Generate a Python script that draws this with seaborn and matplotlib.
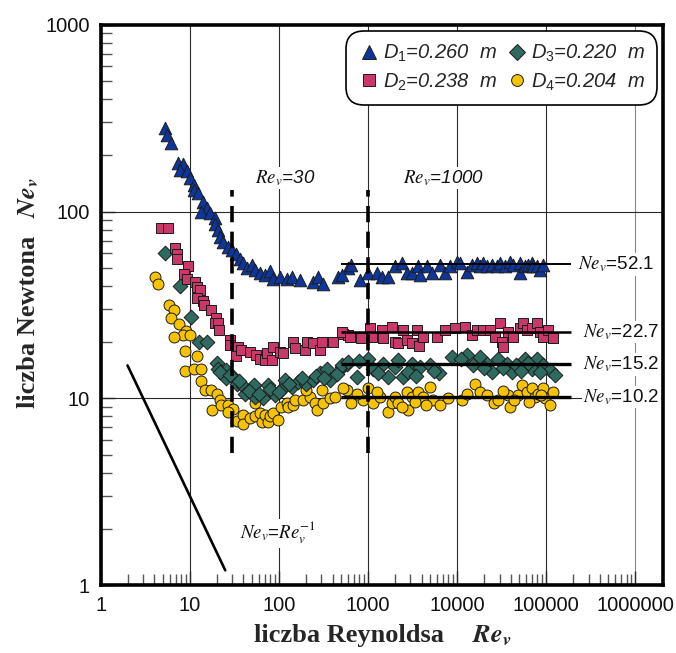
import pandas as pd
import matplotlib
matplotlib.use("Agg")
import matplotlib.pyplot as plt
import seaborn as sns
from matplotlib.lines import Line2D
from matplotlib.ticker import FixedLocator, FixedFormatter, NullFormatter

# ---------------------------------------------------------------- data
# Newton number vs Reynolds number for four impeller diameters
re_d1 = [5.3, 5.5, 6.2, 7.3, 8.4, 7.7, 9.3, 10, 11.2, 11.1,
         12.4, 14.1, 15.4, 13.5, 16.8, 19.1, 19.1, 20.8, 21.7, 23.6,
         27, 29.4, 33.4, 36.5, 39.6, 43.3, 49.3, 53.7, 61, 69.6,
         79, 86, 103, 122, 140, 172, 241, 275, 313, 465, 600,
         515, 650, 813, 1010, 1250, 1430, 1680, 2000, 2400, 2750,
         3100, 3650, 3840, 4550, 5200, 6440, 7300, 8340, 9900, 10800,
         12800, 14600, 16600, 18100, 19800, 21600, 24700, 28000, 30400, 34600,
         39400, 43000, 51000, 51000, 58000, 63000, 69000, 72000, 78000, 85600, 93000]
ne_d1 = [279, 257, 233, 182, 180, 166, 164, 151, 139, 131,
         126, 113, 104, 100, 98, 92, 86, 80, 73.5, 69,
         65, 62, 59.5, 55.5, 52.8, 49.7, 51.8, 48.7, 46.7, 45.8,
         48.3, 43.8, 44.8, 43.8, 44.8, 43, 42, 44.8, 41, 44.8, 49.8,
         45.8, 51.8, 43, 46.7, 46.7, 44.8, 44.8, 50.9, 52.8, 46.7,
         46.7, 50.9, 45.8, 50.9, 46.7, 51.8, 46.7, 50.9, 54, 52.8,
         47.6, 51.8, 52.8, 50.9, 52.8, 50.9, 51.8, 50.9, 52.8, 50.9,
         54, 51.8, 52.8, 46.7, 50.9, 51.8, 52.8, 50.9, 50.9, 48.7, 51.8]

re_d2 = [4.7, 5.7, 6.8, 7.2, 7.2, 9.6, 8.6, 9.3, 11.4, 11.9,
         12.9, 11.9, 14.1, 14.5, 17.5, 19.6, 19.1, 20.8, 21.2, 28.1,
         28.1, 35, 33.4, 38, 47, 56, 61, 69.6, 74, 83,
         86.5, 103, 112, 144, 151, 196, 207, 242, 289, 302,
         407, 525, 600,
         515, 628, 840, 1050, 1100, 1430, 1490, 1840, 2000, 2170,
         2500, 2750, 3100, 3530, 3770, 4200, 5900, 7300, 9400, 12200,
         14600, 16600, 19800, 23500, 27000, 30400, 31800, 33000, 37500, 43000,
         51000, 55500, 60500, 69000, 78000, 85600, 93000, 105000, 120000]
ne_d2 = [81.5, 81.5, 63.5, 59.5, 56, 51.3, 46.3, 43.5, 42, 39.6,
         38.2, 34.3, 33, 31.6, 29.7, 27, 25.2, 25.2, 23.2, 20.5,
         19.3, 18.9, 16.8, 18.1, 17.8, 17.1, 16.3, 16.1, 17.4, 16,
         18.9, 17.8, 17.5, 20.1, 18.5, 18.1, 20.1, 19.7, 18.1, 20.1,
         20.1, 22.2, 21.8,
         22.7, 21.4, 21, 23.7, 21.4, 23.2, 21, 24.2, 20.1, 19.7,
         23.2, 20.5, 19.7, 23.2, 19, 21.4, 21.4, 23.2, 23.7, 24.2,
         21.8, 23.2, 23.2, 23.2, 21.4, 25.2, 20.1, 18.9, 22.7, 21.4,
         23.7, 25.2, 23.2, 23.7, 25.2, 22.7, 21.4, 23.2, 21]

re_d3 = [5.2, 7.7, 10.4, 12.7, 15.6, 20.2, 20.9, 25.3, 25.8, 30.7,
         33.5, 40, 41.5, 52.5, 53.7, 66.5, 75.6, 90, 107, 117,
         139, 164, 204, 243, 289, 343, 374, 510, 580,
         22, 28, 36, 46, 60, 80, 100, 130, 180, 260, 320, 450,
         515, 600, 745, 1010, 1150, 1490, 1680, 2000, 2500, 3100,
         3840, 4970, 6200, 8800, 12800, 15200, 18100, 21600, 24700, 29000,
         36000, 41000, 46000, 58000, 69000, 78000, 93000, 110000, 125000,
         800, 1300, 2200, 2800, 3500, 5500, 11000, 20000, 33000, 52000, 62000, 85000]
ne_d3 = [60, 40, 27.4, 20.1, 20.1, 15.5, 14.4, 14.2, 12.9, 13,
         12, 11.6, 10.6, 11.8, 10.2, 10, 11.8, 10.4, 11.1, 12.5,
         11.5, 12.3, 12, 12.5, 13.6, 14.4, 12.5, 14.7, 15.3,
         13.8, 13.4, 12.4, 11, 10.6, 11.2, 10.8, 12, 12.8, 13.2, 12.8, 13.5,
         15.1, 15.6, 13, 16.3, 14.4, 15.3, 13, 14.7, 13, 15.3,
         14.7, 15.1, 13.6, 16.7, 17.1, 15.1, 16.7, 15.3, 13.9, 16.3,
         15.3, 13.9, 15.1, 16.3, 14.4, 16.3, 15.1, 14.2, 13.3,
         15.8, 13.6, 16, 13.8, 13.2, 14, 16.2, 14.6, 14.5, 14, 15.4, 13.8]

re_d4 = [4.05, 4.4, 5.8, 6.6, 6.1, 7.5, 9, 8.3, 6.6, 10,
         8.9, 12.2, 8.9, 11.2, 13.3, 13.3, 14.7, 17.5, 20, 21.7,
         17.9, 22.6, 27, 30.7, 27, 33.5, 40, 40, 47, 53.7,
         53.7, 61, 64, 69.6, 75.6, 79, 86, 98, 107, 122,
         127, 144, 151, 186, 223, 204, 254, 265, 302, 313,
         374, 424, 575,
         525, 650, 880, 1010, 1150, 1365, 1680, 1840, 2000, 2170,
         2750, 2850, 3100, 3650, 4200, 4970, 5400, 6440, 11500, 15800,
         18100, 21600, 25700, 29000, 37500, 39400, 48500, 53000, 60500, 69000,
         75000, 81000, 93000, 97500, 110000, 120000,
         750, 1250, 2400, 3400, 4500, 8000, 13000, 33000, 44000, 65000, 88000]
ne_d4 = [44.8, 41, 31.6, 29.7, 27, 24.9, 23, 21.8, 21.2, 21.8,
         18, 16.8, 14, 14.4, 14.4, 12.4, 11.1, 11.1, 10.6, 9.8,
         8.7, 9.2, 9.2, 8.8, 8.5, 7.6, 8.1, 7.3, 7.8, 8,
         9.4, 8.3, 7.5, 8.1, 7.5, 8, 8.3, 7.7, 9, 9.4,
         9, 9.2, 9.8, 9.8, 10.2, 11.1, 9.4, 8.7, 11.1, 9.4,
         10, 10.2, 11.1,
         11.3, 9.4, 9.8, 11.3, 9.4, 10.2, 8.5, 9.4, 10.2, 9.4,
         10.8, 8.7, 10.2, 10.8, 10.2, 11.5, 9.8, 9.2, 9.8, 12,
         10.8, 10.4, 9.4, 9.8, 10.4, 9, 10.4, 11.8, 10.8, 11.3,
         10.2, 10.6, 11.3, 10, 9.2, 10.8,
         10.6, 10.8, 9, 9.6, 9.2, 10, 10.6, 11, 9.8, 9.6, 10.4]

series_names = [r"$\mathit{D}_{\mathit{1}}$=0.260  m",
                r"$\mathit{D}_{\mathit{2}}$=0.238  m",
                r"$\mathit{D}_{\mathit{3}}$=0.220  m",
                r"$\mathit{D}_{\mathit{4}}$=0.204  m"]
series_colors = ["#0E3599", "#C93868", "#2F6A61", "#F7C300"]
series_markers = ["^", "s", "D", "o"]

# plateau values of Ne_v in the turbulent range
ne_levels = [52.1, 22.7, 15.2, 10.2]
level_re_range = [500, 190000]

# characteristic Reynolds numbers
re_marks = [30, 1000]
re_mark_ne_range = [5.1, 130]

# laminar slope Ne_v = C * Re_v^-1
slope_re = [2, 25]
slope_ne = [15, 1.2]

x_ticks = [1, 10, 100, 1000, 10000, 100000, 1000000]
x_tick_labels = ["1", "10", "100", "1000", "10000", "100000", "1000000"]
y_ticks = [1, 10, 100, 1000]
y_tick_labels = ["1", "10", "100", "1000"]

# ---------------------------------------------------------------- style
sns.set_style("ticks")
plt.rcParams["font.family"] = ["Liberation Sans", "DejaVu Sans"]
plt.rcParams["mathtext.fontset"] = "custom"
plt.rcParams["mathtext.it"] = "Liberation Sans:italic"
plt.rcParams["mathtext.rm"] = "Liberation Sans"
plt.rcParams["mathtext.bf"] = "Liberation Sans:bold"

fig = plt.figure(figsize=(6.76, 6.53), dpi=100)
ax = fig.add_axes([0.149, 0.104, 0.832, 0.858])

frames = []
for name, re, ne in zip(series_names, [re_d1, re_d2, re_d3, re_d4],
                        [ne_d1, ne_d2, ne_d3, ne_d4]):
    frames.append(pd.DataFrame({"Re": re, "Ne": ne, "series": name}))
df = pd.concat(frames, ignore_index=True)

palette = dict(zip(series_names, series_colors))
markers = dict(zip(series_names, series_markers))
sizes = {series_names[0]: 82, series_names[1]: 62,
         series_names[2]: 56, series_names[3]: 62}

# smallest impeller first so the larger ones are drawn on top
for name in series_names[::-1]:
    sub = df[df["series"] == name]
    sns.scatterplot(data=sub, x="Re", y="Ne", color=palette[name],
                    marker=markers[name], s=sizes[name], edgecolor="#1c1c1c",
                    linewidth=0.7, legend=False, ax=ax, zorder=3)

ax.set_xscale("log")
ax.set_yscale("log")
ax.set_xlim(1, 2.06e6)
ax.set_ylim(1, 1000)

# grid at every decade
for v in x_ticks[1:]:
    ax.axvline(v, color="#888888" if v == x_ticks[-1] else "#2a2a2a",
               lw=0.8, zorder=0.5)
for v in y_ticks[1:-1]:
    ax.axhline(v, color="#2a2a2a", lw=0.8, zorder=0.5)

# plateau lines and their labels
level_widths = [1.4, 1.8, 2.4, 2.4]
level_label_x = [2.3e5, 2.6e5, 2.6e5, 2.6e5]
for ne, lw, lx in zip(ne_levels, level_widths, level_label_x):
    ax.hlines(ne, level_re_range[0], level_re_range[1], color="black",
              lw=lw, zorder=4)
    ax.text(lx, ne, rf"$Ne_v$={ne}", fontsize=13.5, math_fontfamily="stix",
            ha="left", va="center", color="#111111", zorder=5,
            bbox=dict(facecolor="white", edgecolor="none", pad=1.0))

# characteristic Reynolds numbers
mark_label_pos = [(54, 151), (2450, 151)]
for rm, (tx, ty) in zip(re_marks, mark_label_pos):
    ax.vlines(rm, re_mark_ne_range[0], re_mark_ne_range[1], color="black",
              lw=2.6, linestyles=(0, (4.5, 2.6)), zorder=4)
    ax.text(tx, ty, rf"$Re_v$={rm}", fontsize=13.5, style="italic",
            math_fontfamily="stix", ha="left", va="center", color="#111111",
            zorder=5, bbox=dict(facecolor="white", edgecolor="none", pad=1.0))

# laminar slope
ax.plot(slope_re, slope_ne, color="black", lw=1.9, zorder=4)
ax.text(36.5, 1.9, r"$Ne_v$=$Re_v^{\mathit{-1}}$", fontsize=13.5,
        math_fontfamily="stix", ha="left", va="center", color="#111111",
        zorder=5, bbox=dict(facecolor="white", edgecolor="none", pad=1.0))

# axes, ticks
ax.xaxis.set_major_locator(FixedLocator(x_ticks))
ax.xaxis.set_major_formatter(FixedFormatter(x_tick_labels))
ax.yaxis.set_major_locator(FixedLocator(y_ticks))
ax.yaxis.set_major_formatter(FixedFormatter(y_tick_labels))
minor_x = [m * 10 ** k for k in range(6) for m in range(2, 10)]
minor_y = [m * 10 ** k for k in range(3) for m in range(2, 10)]
ax.xaxis.set_minor_locator(FixedLocator(minor_x))
ax.yaxis.set_minor_locator(FixedLocator(minor_y))
ax.xaxis.set_minor_formatter(NullFormatter())
ax.yaxis.set_minor_formatter(NullFormatter())
ax.tick_params(which="major", direction="in", length=10, width=1.0,
               labelsize=14.5, labelcolor="#111111", pad=8,
               top=False, right=False)
ax.tick_params(which="minor", direction="in", length=8, width=1.0,
               color="#555555", top=False, right=False)
for sp in ax.spines.values():
    sp.set_linewidth(2.6)
    sp.set_color("black")
ax.set_xlabel("")
ax.set_ylabel("")

# legend
handles = [Line2D([], [], linestyle="none", marker=m, color=c,
                  markeredgecolor="#1c1c1c", markeredgewidth=0.7,
                  markersize=10 if m == "^" else 8.5)
           for m, c in zip(series_markers, series_colors)]
leg = ax.legend(handles, series_names, ncol=2, loc="upper right",
                bbox_to_anchor=(0.979, 0.978), borderaxespad=0,
                prop=dict(family="Liberation Sans", style="italic", size=14.5),
                handletextpad=0.15, columnspacing=0.45, handlelength=1.1,
                labelspacing=0.35, borderpad=0.3, frameon=True,
                fancybox=True, framealpha=1)
frame = leg.get_frame()
frame.set_edgecolor("black")
frame.set_linewidth(1.2)
frame.set_boxstyle("round", pad=0.3, rounding_size=0.9)
leg.set_zorder(6)

# axis titles
fig.text(0.516, 0.027, "liczba Reynoldsa", fontsize=19, fontweight="bold",
         family="Liberation Serif", ha="center", va="center")
fig.text(0.728, 0.026, r"$\mathbfit{Re}_{\mathbfit{v}}$", fontsize=19,
         math_fontfamily="stix", ha="center", va="center")
fig.text(0.042, 0.507, "liczba Newtona", fontsize=19, fontweight="bold",
         family="Liberation Serif", ha="center", va="center", rotation=90)
fig.text(0.042, 0.698, r"$\mathbfit{Ne}_{\mathbfit{v}}$", fontsize=19,
         math_fontfamily="stix", ha="center", va="center", rotation=90)

fig.savefig("out.png", dpi=100)
